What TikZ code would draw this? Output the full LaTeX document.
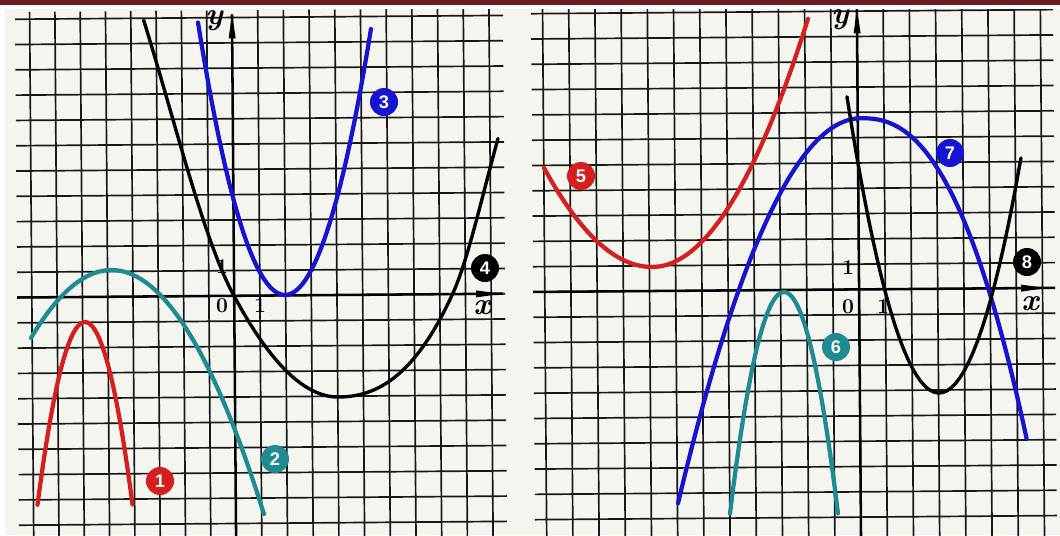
\documentclass[tikz,border=0pt]{standalone}
\usepackage{fontspec}
\newfontfamily\labfont{Liberation Sans}
\definecolor{barred}{HTML}{6A1E22}
\definecolor{photo}{HTML}{F5F5F0}
\definecolor{cred}{HTML}{D61E1E}
\definecolor{cteal}{HTML}{1E8A92}
\definecolor{cblue}{HTML}{1414D2}
\definecolor{gridc}{HTML}{181818}
\begin{document}
\begin{tikzpicture}[x=0.025cm,y=-0.025cm,
  gridline/.style={line width=1.2pt, draw=gridc},
  axisline/.style={line width=1.8pt, draw=black},
  curve/.style={line width=3pt, line cap=round},
  blackcurve/.style={line width=2.4pt, line cap=round, draw=black},
  lab/.style={circle, inner sep=0pt, minimum size=0.7cm, text=white,
    font=\labfont\bfseries\fontsize{13}{13}\selectfont},
  num/.style={font=\bfseries\fontsize{15}{15}\selectfont, inner sep=0pt},
  axl/.style={font=\bfseries\itshape\fontsize{22}{22}\selectfont, inner sep=0pt}]
\useasboundingbox (0,0) rectangle (1060,535);
\fill[white] (0,0) rectangle (1060,535);
\fill[photo] (5,9.3) rectangle (1060,535);
\begin{scope}
\clip (5,9.3) rectangle (1060,535);
\begin{scope}[rotate around={0.45:(530,270)}]
  % left panel grid
  \foreach \k in {-8,...,-1} \draw[gridline] ({234+25.3*\k},8) -- ({234+25.3*\k},540);
  \foreach \k in {1,...,10} \draw[gridline] ({234+25.7*\k},8) -- ({234+25.7*\k},540);
  \foreach \j in {-9,...,11} \draw[gridline] (17,{293.5-25.3*\j}) -- (505,{293.5-25.3*\j});
  % right panel grid
  \foreach \k in {-12,...,7} \draw[gridline] ({859+26.2*\k},8) -- ({859+26.2*\k},540);
  \foreach \j in {-9,...,11} \draw[gridline] (533,{292-25.3*\j}) -- (1055,{292-25.3*\j});
  % axes left
  \coordinate (ly0) at (234,540); \coordinate (ly1) at (234,12);
  \coordinate (lx0) at (17,293.5); \coordinate (lx1) at (503,293.5);
  \draw[axisline] (ly0) -- (ly1);
  \draw[axisline] (lx0) -- (lx1);
  \fill (234,11) -- (230.5,36) -- (237.5,36) -- cycle;
  \fill (501,293.5) -- (476,290) -- (476,297) -- cycle;
  % axes right
  \coordinate (ry0) at (859,540); \coordinate (ry1) at (859,12);
  \coordinate (rx0) at (533,292); \coordinate (rx1) at (1055,292);
  \draw[axisline] (ry0) -- (ry1);
  \draw[axisline] (rx0) -- (rx1);
  \fill (859,11) -- (855.5,36) -- (862.5,36) -- cycle;
  \fill (1046,292) -- (1021,288.5) -- (1021,295.5) -- cycle;
\end{scope}
\end{scope}
\fill[barred] (0,0) rectangle (1060,4.7);

% curve 1 (red)
\draw[curve, cred] plot[domain=-0.475:0.475, samples=41] ({85+100*\x},{322+810*\x*\x});
% curve 2 (teal)
\draw[curve, cteal] plot[domain=-0.805:1.525, samples=61] ({111.5+100*\x},{270+105*\x*\x});
% curve 3 (blue)
\draw[curve, cblue] plot[domain=-0.87:0.86, samples=51] ({285+100*\x},{295-360*\x*\x});
% curve 4 (black)
\draw[blackcurve] (143.6,20) .. controls (173.1,114.4) and (202.5,236) .. (232,292)
  .. controls (267.3,359.1) and (302.7,397) .. (338,397)
  .. controls (376.3,397) and (414.7,377.3) .. (453,293)
  .. controls (468,260) and (483,192.5) .. (498,138.5);
% curve 5 (red)
\draw[curve, cred] plot[domain=-1.08:0, samples=31] ({652+100*\x},{267-85*\x*\x})
  -- plot[domain=0:1.56, samples=41] ({652+100*\x},{267-102*\x*\x});
% curve 6 (teal)
\draw[curve, cteal] plot[domain=-0.54:0.54, samples=41] ({784+100*\x},{292+760*\x*\x});
% curve 7 (blue)
\draw[curve, cblue] plot[domain=-1.83:0, samples=51] ({861+100*\x},{118.2+115*\x*\x})
  -- plot[domain=0.01:1.656, samples=51] ({861+100*\x},{118.2+95.5*(\x)^2.4});
% curve 8 (black)
\draw[blackcurve] plot[domain=-0.92:0.82, samples=41] ({939+100*\x},{393-350*\x*\x});

% axis labels left
\node[axl] (ly) at (214,21) {y};
\node[axl] (lx) at (482,308) {x};
\node[num] (l0) at (222,306) {0};
\node[num] (l1x) at (260,306) {1};
\node[num] (l1y) at (222,267) {1};
% axis labels right
\node[axl] (ry) at (840,20) {y};
\node[axl] (rx) at (1030,304) {x};
\node[num] (r0) at (848,307) {0};
\node[num] (r1x) at (883,307) {1};
\node[num] (r1y) at (848,268) {1};

% curve numbers
\node[lab, fill=cred] (n1) at (160,481) {1};
\node[lab, fill=cteal] (n2) at (275,459) {2};
\node[lab, fill=cblue] (n3) at (384,102) {3};
\node[lab, fill=black] (n4) at (485,268) {4};
\node[lab, fill=cred] (n5) at (581,176) {5};
\node[lab, fill=cteal] (n6) at (836,347) {6};
\node[lab, fill=cblue] (n7) at (950,153) {7};
\node[lab, fill=black] (n8) at (1027,262) {8};
\end{tikzpicture}
\end{document}
